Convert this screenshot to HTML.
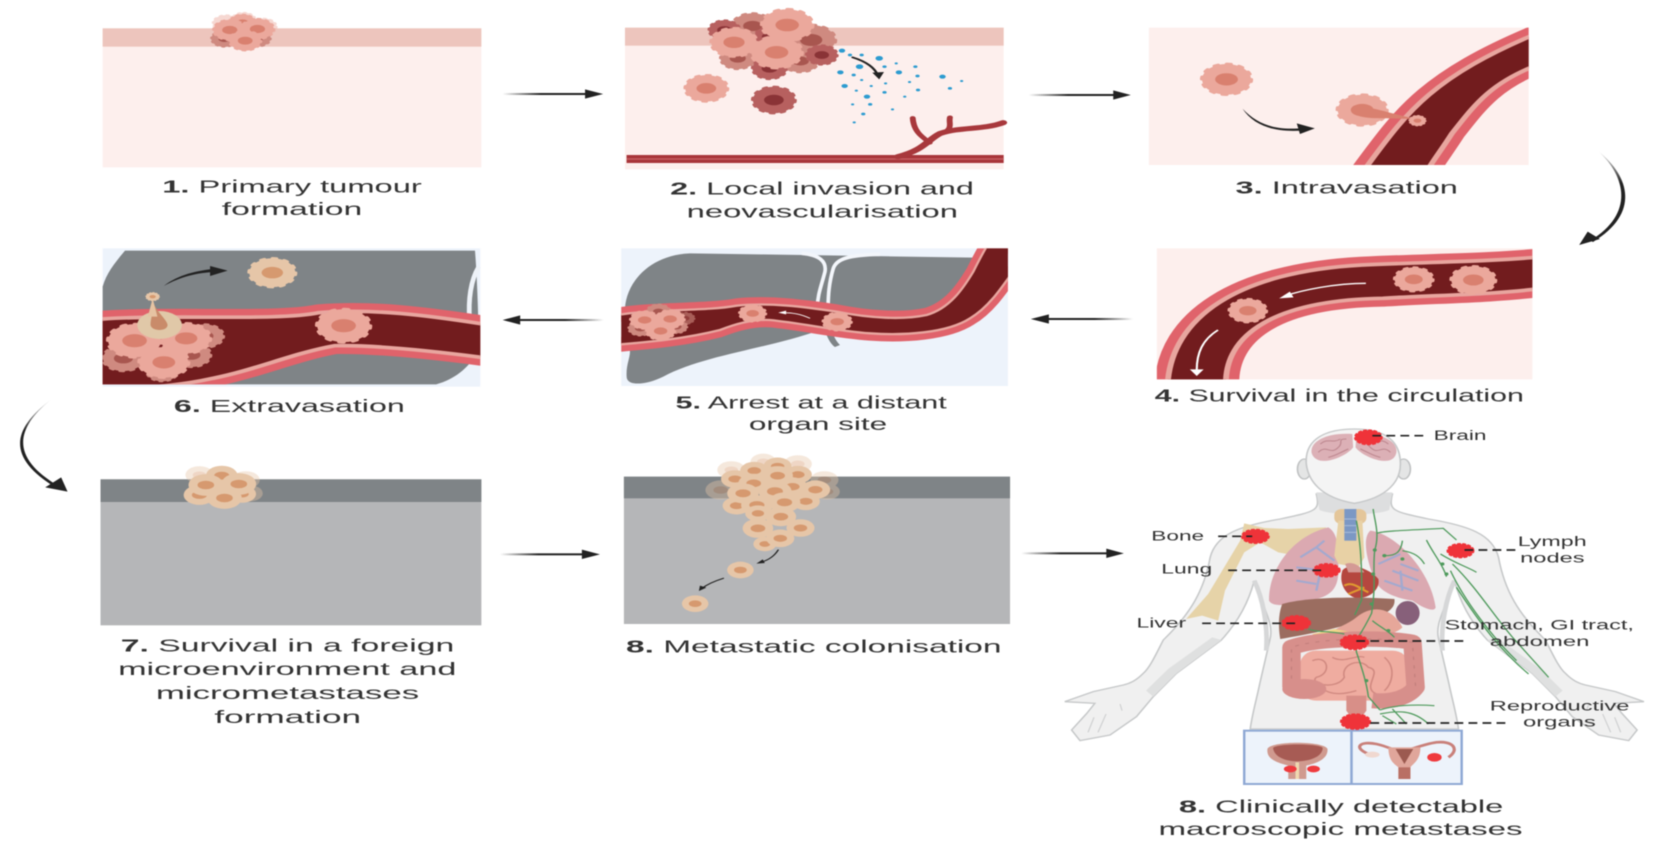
<!DOCTYPE html>
<html><head><meta charset="utf-8"><style>
html,body{margin:0;padding:0;background:#fff;width:1668px;height:848px;overflow:hidden}
svg{display:block;filter:blur(.55px)}
text{font-family:"Liberation Sans",sans-serif;fill:#333;font-size:54px}
text.s{font-size:41px}
tspan{font-weight:bold}
.r{fill:none;stroke:#e0636b;stroke-width:50}
.v{fill:#721c1e;stroke:#e8a69f;stroke-width:11}
.r5{fill:none;stroke:#e0636b;stroke-width:44}
.v5{fill:#721c1e;stroke:#e8a69f;stroke-width:7}
.a{fill:none;stroke:#222;stroke-linecap:round}
.d{fill:none;stroke:#222;stroke-width:5;stroke-dasharray:22 13}
.g{fill:none;stroke:#4f9a5c;stroke-width:3.5}
.b{fill:none;stroke:#a3a9cf;stroke-width:6}
.m{stroke-width:6;stroke-dasharray:5 8;stroke-linecap:round;stroke:#ef3339;fill:#ef3339}
</style></head><body>
<svg width="1668" height="848" viewBox="0 0 3136 2544" preserveAspectRatio="none" xmlns="http://www.w3.org/2000/svg">
<defs>
<g id="p"><circle r="45" fill="#eba89c"/><circle r="45" fill="none" stroke="#eba89c" stroke-width="8" stroke-dasharray="7 16.6" stroke-linecap="round"/><ellipse rx="21" ry="18" fill="#d9806f"/></g>
<g id="q"><circle r="45" fill="#cf8a80"/><circle r="45" fill="none" stroke="#cf8a80" stroke-width="8" stroke-dasharray="7 16.6" stroke-linecap="round"/><ellipse rx="21" ry="18" fill="#a8564f"/></g>
<g id="k"><circle r="45" fill="#b7605f"/><circle r="45" fill="none" stroke="#b7605f" stroke-width="8" stroke-dasharray="7 16.6" stroke-linecap="round"/><ellipse rx="21" ry="18" fill="#8a3336"/></g>
<g id="t"><circle r="48" fill="#e6c6a8"/><ellipse rx="23" ry="19" fill="#d6996f"/></g>
<g id="u"><circle r="45" fill="#e6c6a8"/><circle r="45" fill="none" stroke="#e6c6a8" stroke-width="8" stroke-dasharray="7 16.6" stroke-linecap="round"/><ellipse rx="21" ry="18" fill="#d6996f"/></g>
<linearGradient id="fr"><stop offset="0" stop-color="#222" stop-opacity="0"/><stop offset=".45" stop-color="#222"/></linearGradient>
<linearGradient id="fl"><stop offset="0" stop-color="#222"/><stop offset=".55" stop-color="#222"/><stop offset="1" stop-color="#222" stop-opacity="0"/></linearGradient>
<linearGradient id="fd" x1="0" y1="0" x2="0" y2="1"><stop offset="0" stop-color="#222" stop-opacity=".1"/><stop offset=".35" stop-color="#222"/></linearGradient>
<clipPath id="c3"><rect x="2160" y="83" width="714" height="412"/></clipPath>
<clipPath id="c4"><rect x="2175" y="745" width="706" height="393"/></clipPath>
<clipPath id="c5"><rect x="1168" y="745" width="727" height="413"/></clipPath>
<clipPath id="c6"><rect x="193" y="745" width="710" height="408"/></clipPath>
<path id="v3" d="M2560,520 C2640,350 2680,240 2890,100 L2890,195 C2800,250 2770,320 2730,400 C2710,450 2695,480 2680,520 Z"/>
<path id="v4" d="M2195,1160 C2200,950 2330,815 2560,795 C2700,785 2800,785 2900,770 L2900,865 C2800,885 2700,885 2600,895 C2400,900 2300,1000 2305,1160 Z"/>
<path id="v5" d="M-20,212 C100,190 250,200 350,182 C450,172 550,185 650,200 C750,220 850,225 920,210 C990,190 1030,130 1060,80 C1075,50 1085,30 1100,5 L1200,5 L1200,50 C1150,120 1110,185 1050,220 C980,265 850,272 750,265 C650,258 550,235 450,225 C400,222 350,235 300,255 C200,280 100,290 -20,300 Z"/>
<path id="v6" d="M170,960 C300,940 520,965 600,938 C700,925 800,945 920,975 L920,1075 C800,1050 700,1035 630,1037 C550,1060 480,1110 400,1135 C330,1160 260,1165 170,1170 Z"/>
</defs>

<!-- Panel 1 -->
<rect x="193" y="85" width="712" height="417" fill="#fdefed"/>
<rect x="193" y="85" width="712" height="55" fill="#edc5bd"/>
<g opacity=".45"><use href="#p" transform="translate(425 70) scale(.55)"/><use href="#p" transform="translate(495 80) scale(.55)"/><use href="#p" transform="translate(458 60) scale(.5)"/></g>
<use href="#p" transform="translate(456 68) scale(.55)"/>
<use href="#q" transform="translate(422 116) scale(.55)"/>
<use href="#q" transform="translate(484 115) scale(.55)"/>
<use href="#p" transform="translate(432 90) scale(.68)"/>
<use href="#p" transform="translate(484 87) scale(.68)"/>
<use href="#p" transform="translate(461 122) scale(.66)"/>

<!-- Panel 2 -->
<rect x="1175" y="83" width="712" height="425" fill="#fdefed"/>
<rect x="1175" y="83" width="712" height="54" fill="#edc5bd"/>
<rect x="1178" y="465" width="709" height="24" fill="#a8353a"/><rect x="1178" y="475" width="709" height="4" fill="#c76064"/>
<g transform="translate(1568 0)" fill="none" stroke="#a8383c" stroke-linecap="round">
<path stroke-width="15" d="M120,470 C170,450 175,420 200,400 C240,380 280,390 318,368"/>
<path stroke-width="11" d="M180,428 C165,410 150,395 148,354"/><path stroke-width="11" d="M205,398 C225,385 215,370 218,352"/>
</g>
<g fill="#2c9bd0" transform="translate(1568 0)">
<circle cx="15" cy="152" r="6"/><circle cx="30" cy="165" r="4"/><circle cx="52" cy="165" r="4"/><circle cx="85" cy="175" r="7"/><circle cx="48" cy="200" r="7"/><circle cx="12" cy="217" r="6"/><circle cx="37" cy="225" r="4"/><circle cx="95" cy="200" r="4"/><circle cx="122" cy="217" r="6"/><circle cx="153" cy="200" r="4"/><circle cx="157" cy="228" r="4"/><circle cx="204" cy="230" r="6"/><circle cx="240" cy="243" r="3"/><circle cx="218" cy="265" r="4"/><circle cx="158" cy="270" r="4"/><circle cx="95" cy="277" r="4"/><circle cx="62" cy="290" r="6"/><circle cx="20" cy="258" r="6"/><circle cx="42" cy="272" r="3"/><circle cx="133" cy="290" r="3"/><circle cx="35" cy="313" r="3"/><circle cx="68" cy="313" r="4"/><circle cx="110" cy="328" r="3"/><circle cx="55" cy="342" r="4"/><circle cx="38" cy="367" r="3"/><circle cx="142" cy="246" r="3"/><circle cx="70" cy="258" r="3"/><circle cx="52" cy="240" r="3"/><circle cx="97" cy="250" r="3"/><circle cx="117" cy="190" r="3"/>
</g>
<use href="#q" transform="translate(1415 78) scale(.85)"/>
<use href="#k" transform="translate(1362 90) scale(.65)"/>
<use href="#k" transform="translate(1445 110) scale(.6)"/>
<use href="#q" transform="translate(1387 175) scale(.72)"/>
<use href="#k" transform="translate(1447 205) scale(.72)"/>
<use href="#q" transform="translate(1525 120) scale(1)"/>
<use href="#q" transform="translate(1505 183) scale(.75)"/>
<use href="#k" transform="translate(1545 165) scale(.65)"/>
<use href="#p" transform="translate(1480 75) scale(1.05)"/>
<use href="#p" transform="translate(1380 127) scale(.95)"/>
<use href="#p" transform="translate(1460 157) scale(1.05)"/>
<use href="#p" transform="translate(1328 265) scale(.88)"/>
<use href="#k" transform="translate(1455 300) scale(.88)"/>
<path class="a" d="M1603,172 C1630,185 1645,205 1650,225" stroke-width="5"/>
<polygon points="1640,218 1662,216 1653,238" fill="#222"/>

<!-- Panel 3 -->
<rect x="2160" y="83" width="714" height="412" fill="#fdefed"/>
<g clip-path="url(#c3)"><use href="#v3" class="r"/><use href="#v3" class="v"/></g>
<use href="#p" transform="translate(2306 238) scale(1.02)"/>
<use href="#p" transform="translate(2561 330) scale(1.02)"/>
<path d="M2548,322 C2570,315 2600,335 2665,358 C2610,352 2570,360 2550,345 Z" fill="#d9806f"/>
<use href="#p" transform="translate(2665 362) scale(.35)"/>
<path d="M2336,326 C2365,376 2400,392 2452,384 L2452,391 C2400,398 2358,380 2336,326 Z" fill="#222"/>
<polygon points="2438,370 2472,385 2444,402" fill="#222"/>

<!-- curved arrow 3-4 -->
<path d="M3006,455 C3056,530 3074,640 2990,722 L2995,726 C3084,640 3064,530 3006,455 Z" fill="url(#fd)"/>
<polygon points="2969,735 2985,695 3008,717" fill="#222"/>

<!-- Panel 4 -->
<rect x="2175" y="745" width="706" height="393" fill="#fdefed"/>
<g clip-path="url(#c4)"><use href="#v4" class="r"/><use href="#v4" class="v"/></g>
<use href="#p" transform="translate(2658 838) scale(.8)"/>
<use href="#p" transform="translate(2770 840) scale(.92)"/>
<use href="#p" transform="translate(2346 932) scale(.78)"/>
<path d="M2568,850 C2510,850 2450,870 2415,888" fill="none" stroke="#fff" stroke-width="4"/>
<polygon points="2405,895 2425,875 2432,892" fill="#fff"/>
<path d="M2290,990 C2260,1020 2250,1060 2250,1110" fill="none" stroke="#fff" stroke-width="4"/>
<polygon points="2237,1108 2263,1108 2250,1128" fill="#fff"/>

<!-- Panel 5 -->
<rect x="1168" y="745" width="727" height="413" fill="#edf3fb"/>
<g clip-path="url(#c5)"><g transform="translate(1165.6 735) scale(.6267 1)">
<path d="M15,190 C20,110 90,30 210,25 L1065,38 L1000,200 L640,260 L600,255 C450,310 250,330 130,395 C80,420 20,425 20,395 C18,360 30,340 30,320 Z" fill="#7f8487"/>
<path d="M615,258 C625,285 635,300 645,306 L660,300 C645,285 640,270 638,258 Z" fill="#7f8487"/>
<path d="M545,25 C600,30 620,50 615,80 C605,120 592,150 592,190 M780,28 C690,30 650,40 640,70 C625,120 625,160 624,192" fill="none" stroke="#f3f6fb" stroke-width="11"/>
<use href="#v5" class="r5"/><use href="#v5" class="v5"/>
</g></g>
<use href="#q" transform="translate(1288 955) scale(.4)" opacity=".6"/>
<use href="#q" transform="translate(1238 935) scale(.5)"/>
<use href="#q" transform="translate(1272 980) scale(.45)"/>
<use href="#q" transform="translate(1204 985) scale(.5)"/>
<use href="#p" transform="translate(1212 960) scale(.6)"/>
<use href="#p" transform="translate(1260 957) scale(.6)"/>
<use href="#p" transform="translate(1242 993) scale(.6)"/>
<use href="#p" transform="translate(1415 940) scale(.56)"/>
<use href="#p" transform="translate(1574 965) scale(.6)"/>
<path d="M1523,955 C1505,942 1490,938 1472,938" fill="none" stroke="#fff" stroke-width="2.5"/>
<polygon points="1463,938 1478,932 1478,943" fill="#fff"/>

<!-- Panel 6 -->
<rect x="193" y="745" width="710" height="415" fill="#edf3fb"/>
<path d="M235,752 L893,752 C898,850 900,1000 900,1050 C880,1110 850,1140 820,1153 L193,1153 L193,860 C200,820 215,790 235,752 Z" fill="#7f8487"/>
<path d="M900,800 C885,840 880,900 883,960" fill="none" stroke="#eef2f8" stroke-width="9"/>
<g clip-path="url(#c6)"><use href="#v6" class="r"/><use href="#v6" class="v"/>
<use href="#q" transform="translate(385 1008) scale(.78)"/>
<use href="#q" transform="translate(232 1075) scale(.85)"/>
<use href="#q" transform="translate(360 1065) scale(.8)"/>
<use href="#q" transform="translate(305 1115) scale(.65)"/>
<use href="#p" transform="translate(253 1022) scale(1.1)"/>
<use href="#p" transform="translate(350 1015) scale(1)"/>
<use href="#p" transform="translate(308 1087) scale(1.02)"/>
<use href="#p" transform="translate(646 977) scale(1.1)"/>
</g>
<circle cx="300" cy="975" r="42" fill="#e0c8a8"/>
<path d="M287,900 C290,930 315,960 315,975 C315,995 285,995 283,975 C283,955 290,930 287,900 Z" fill="#c98b6a"/>
<path d="M287,895 L296,950 L278,950 Z" fill="#e6c3a2"/>
<use href="#u" transform="translate(287 890) scale(.28)"/>
<use href="#u" transform="translate(512 818) scale(.96)"/>
<path d="M308,858 C335,824 370,812 405,806 L405,816 C370,818 340,830 308,858 Z" fill="#222"/>
<polygon points="395,798 428,812 395,828" fill="#222"/>

<!-- curved arrow 6-7 -->
<path d="M95,1200 C26,1290 22,1375 110,1458 L105,1463 C14,1375 20,1290 95,1200 Z" fill="url(#fd)"/>
<polygon points="127,1475 85,1462 115,1432" fill="#222"/>

<!-- Panel 7 -->
<rect x="189" y="1438" width="716" height="438" fill="#b5b6b8"/>
<rect x="189" y="1438" width="716" height="68" fill="#7f8487"/>
<g opacity=".4"><use href="#t" transform="translate(375 1425) scale(.55)"/><use href="#t" transform="translate(462 1440) scale(.55)"/><use href="#t" transform="translate(470 1480) scale(.5)"/></g>
<use href="#t" transform="translate(417 1427) scale(.62)"/>
<use href="#t" transform="translate(375 1485) scale(.62)"/>
<use href="#t" transform="translate(455 1482) scale(.55)"/>
<use href="#t" transform="translate(387 1455) scale(.68)"/>
<use href="#t" transform="translate(449 1452) scale(.68)"/>
<use href="#t" transform="translate(422 1494) scale(.68)"/>

<!-- Panel 8 -->
<rect x="1173" y="1430" width="726" height="442" fill="#b5b6b8"/>
<rect x="1173" y="1430" width="726" height="65" fill="#7f8487"/>
<g opacity=".4"><use href="#t" transform="translate(1375 1410) scale(.55)"/><use href="#t" transform="translate(1435 1385) scale(.5)"/><use href="#t" transform="translate(1500 1392) scale(.55)"/><use href="#t" transform="translate(1550 1440) scale(.55)"/><use href="#t" transform="translate(1355 1470) scale(.6)"/><use href="#t" transform="translate(1555 1475) scale(.5)"/></g>
<use href="#t" transform="translate(1462 1399) scale(.55)"/>
<use href="#t" transform="translate(1418 1412) scale(.55)"/>
<use href="#t" transform="translate(1500 1424) scale(.55)"/>
<use href="#t" transform="translate(1382 1437) scale(.55)"/>
<use href="#t" transform="translate(1462 1427) scale(.6)"/>
<use href="#t" transform="translate(1417 1450) scale(.6)"/>
<use href="#t" transform="translate(1490 1460) scale(.58)"/>
<use href="#t" transform="translate(1533 1469) scale(.58)"/>
<use href="#t" transform="translate(1385 1517) scale(.55)"/>
<use href="#t" transform="translate(1515 1504) scale(.55)"/>
<use href="#t" transform="translate(1397 1480) scale(.62)"/>
<use href="#t" transform="translate(1457 1474) scale(.65)"/>
<use href="#t" transform="translate(1475 1507) scale(.62)"/>
<use href="#t" transform="translate(1423 1515) scale(.62)"/>
<use href="#t" transform="translate(1425 1540) scale(.5)"/>
<use href="#t" transform="translate(1468 1550) scale(.6)"/>
<use href="#t" transform="translate(1438 1632) scale(.45)"/>
<use href="#t" transform="translate(1425 1585) scale(.6)"/>
<use href="#t" transform="translate(1505 1584) scale(.55)"/>
<use href="#t" transform="translate(1467 1615) scale(.55)"/>
<use href="#t" transform="translate(1392 1710) scale(.52)"/>
<use href="#t" transform="translate(1307 1811) scale(.52)"/>
<path class="a" d="M1463,1650 C1455,1670 1445,1680 1432,1686" stroke-width="3"/>
<polygon points="1422,1691 1434,1678 1438,1689" fill="#222"/>
<path class="a" d="M1360,1735 C1340,1745 1328,1755 1320,1765" stroke-width="3"/>
<polygon points="1314,1773 1316,1757 1328,1763" fill="#222"/>

<!-- straight arrows -->
<rect x="945" y="279" width="160" height="6" fill="url(#fr)"/><polygon points="1100,268 1134,282 1100,296" fill="#222"/>
<rect x="1934" y="282" width="164" height="6" fill="url(#fr)"/><polygon points="2093,271 2126,285 2093,299" fill="#222"/>
<rect x="1970" y="954" width="160" height="6" fill="url(#fl)"/><polygon points="1938,957 1972,943 1972,971" fill="#222"/>
<rect x="975" y="957" width="160" height="6" fill="url(#fl)"/><polygon points="945,960 978,946 978,974" fill="#222"/>
<rect x="940" y="1660" width="160" height="6" fill="url(#fr)"/><polygon points="1094,1649 1128,1663 1094,1677" fill="#222"/>
<rect x="1920" y="1657" width="165" height="6" fill="url(#fr)"/><polygon points="2080,1646 2113,1660 2080,1674" fill="#222"/>

<!-- Captions -->
<text x="305" y="577" textLength="488" lengthAdjust="spacingAndGlyphs"><tspan>1.</tspan> Primary tumour</text>
<text x="417" y="645" textLength="264" lengthAdjust="spacingAndGlyphs">formation</text>
<text x="1260" y="583" textLength="571" lengthAdjust="spacingAndGlyphs"><tspan>2.</tspan> Local invasion and</text>
<text x="1291" y="652" textLength="510" lengthAdjust="spacingAndGlyphs">neovascularisation</text>
<text x="2323" y="580" textLength="418" lengthAdjust="spacingAndGlyphs"><tspan>3.</tspan> Intravasation</text>
<text x="2171" y="1205" textLength="694" lengthAdjust="spacingAndGlyphs"><tspan>4.</tspan> Survival in the circulation</text>
<text x="327" y="1236" textLength="434" lengthAdjust="spacingAndGlyphs"><tspan>6.</tspan> Extravasation</text>
<text x="1270" y="1226" textLength="510" lengthAdjust="spacingAndGlyphs"><tspan>5.</tspan> Arrest at a distant</text>
<text x="1408" y="1290" textLength="260" lengthAdjust="spacingAndGlyphs">organ site</text>
<text x="227" y="1954" textLength="627" lengthAdjust="spacingAndGlyphs"><tspan>7.</tspan> Survival in a foreign</text>
<text x="222" y="2025" textLength="636" lengthAdjust="spacingAndGlyphs">microenvironment and</text>
<text x="293" y="2097" textLength="495" lengthAdjust="spacingAndGlyphs">micrometastases</text>
<text x="403" y="2169" textLength="276" lengthAdjust="spacingAndGlyphs">formation</text>
<text x="1177" y="1957" textLength="706" lengthAdjust="spacingAndGlyphs"><tspan>8.</tspan> Metastatic colonisation</text>

<!-- Body -->
<g transform="translate(1955.2 1272) scale(.753 1)">
<path d="M690,210 C700,260 690,262 600,285 C500,305 440,330 425,400 C410,500 375,570 308,648 C290,690 275,730 258,748 C240,770 225,778 208,783 L133,803 L62,833 L137,838 L117,868 L79,918 L100,950 L175,933 L241,878 L283,818 L341,748 L453,648 C490,600 520,540 535,470 C560,560 585,600 574,648 L549,778 C540,830 530,870 525,915 L1045,915 C1040,870 1030,830 1021,778 L996,648 C985,600 1010,560 1035,470 C1050,540 1080,600 1117,648 L1229,748 L1287,818 L1329,878 L1395,933 L1470,950 L1491,918 L1453,868 L1433,838 L1508,833 L1437,803 L1362,783 C1345,778 1330,770 1312,748 C1295,730 1280,690 1262,648 C1195,570 1160,500 1145,400 C1130,330 1070,305 970,285 C880,262 870,260 880,210 Z" fill="#f0f0f0" stroke="#c6c8c9" stroke-width="4"/>
<path d="M453,648 L341,748 L283,818 L265,800 L320,735 L430,640 Z" fill="#dfe0e0"/>
<path d="M1117,648 L1229,748 L1287,818 L1305,800 L1250,735 L1140,640 Z" fill="#dfe0e0"/>
<path d="M135,880 L120,925 M165,870 L145,925 M200,840 L205,860" fill="none" stroke="#cfd0d1" stroke-width="3"/>
<path d="M1435,880 L1450,925 M1405,870 L1425,925 M1370,840 L1365,860" fill="none" stroke="#cfd0d1" stroke-width="3"/>
<path d="M690,205 L880,205 L872,258 C840,275 730,275 698,258 Z" fill="#dddedf"/>
<path d="M1035,470 C1015,520 1000,600 1005,680 M535,470 C555,520 570,600 565,680" fill="none" stroke="#d6d7d8" stroke-width="12"/>
<ellipse cx="660" cy="135" rx="17" ry="30" fill="#e4e5e5" stroke="#bfc1c2" stroke-width="4"/>
<ellipse cx="908" cy="135" rx="17" ry="30" fill="#e4e5e5" stroke="#bfc1c2" stroke-width="4"/>
<path d="M665,120 C660,40 720,15 785,15 C850,15 900,40 900,120 C900,170 870,220 785,238 C700,220 670,170 665,120 Z" fill="#f4f4f4" stroke="#c6c8c9" stroke-width="4"/>
<!-- brain -->
<path d="M678,85 C675,50 720,25 780,30 L782,70 C770,90 730,115 700,110 C685,105 680,95 678,85 Z" fill="#dcb0b6"/>
<path d="M890,85 C893,50 850,25 790,30 L788,70 C800,90 840,115 870,110 C885,105 888,95 890,85 Z" fill="#dcb0b6"/>
<path d="M695,85 C715,60 725,95 745,70 C760,55 740,45 765,45 M700,60 C720,40 730,60 750,45 M720,100 C740,95 750,85 770,75 M875,85 C855,60 845,95 825,70 C810,55 830,45 805,45 M870,60 C850,40 840,60 820,45 M850,100 C830,95 820,85 800,75" fill="none" stroke="#bd878f" stroke-width="3"/>
<!-- bone -->
<path d="M510,298 L560,312 L620,315 L715,310 L690,345 L640,395 L595,385 L550,355 L510,385 L462,500 L445,590 L405,575 L365,585 L420,510 L470,410 L500,350 Z" fill="#e6d3a8"/>
<!-- lungs -->
<path d="M720,310 C750,330 745,400 745,440 C745,490 730,520 670,530 C620,545 580,550 572,530 C570,450 620,340 720,310 Z" fill="#dba9b1"/>
<path d="M825,320 C890,330 975,440 988,550 C985,565 960,555 930,530 C880,520 840,500 830,450 C815,400 805,340 825,320 Z" fill="#dba9b1"/>
<path class="b" d="M735,410 L690,370 M690,370 L650,400 M690,370 L710,350 M710,440 L640,430 M690,480 L640,470 M700,445 L690,500 M845,420 L900,390 M900,420 L945,440 M900,440 L905,500 M860,470 L930,500 M880,440 L945,470"/>
<!-- throat -->
<rect x="735" y="255" width="80" height="45" rx="18" fill="#e4c69a"/>
<path d="M745,290 L805,290 L810,400 L795,430 L745,420 L735,395 Z" fill="#e8d1a5"/>
<rect x="760" y="255" width="30" height="95" fill="#7c98c4"/>
<path d="M760,285 H790 M760,305 H790 M760,325 H790" stroke="#a9bcd9" stroke-width="3"/>
<!-- heart -->
<path d="M755,440 C770,415 820,430 845,465 C850,495 825,523 790,523 C765,515 745,480 755,440 Z" fill="#b5473f"/>
<path d="M762,420 C780,410 800,425 810,445 L770,445 Z" fill="#d49a95"/>
<path d="M760,485 C780,470 800,495 820,505 M770,510 L810,490" fill="none" stroke="#e09a30" stroke-width="6"/>
<!-- liver / stomach -->
<path d="M605,540 C680,515 820,520 885,525 C890,560 850,580 800,590 C750,610 700,625 600,645 C595,610 595,570 605,540 Z" fill="#9b6d60"/>
<ellipse cx="918" cy="567" rx="30" ry="36" fill="#87607a"/>
<path d="M790,580 C830,540 880,550 905,610 C880,640 820,640 770,640 L720,630 C740,610 770,600 790,580 Z" fill="#e6a79a"/>
<path d="M680,630 C710,655 760,655 780,625 L735,615 Z" fill="#f0d48a"/>
<!-- intestines -->
<rect x="650" y="680" width="270" height="150" rx="40" fill="#efaca0"/>
<path d="M680,710 C720,690 730,750 690,760 C670,780 740,800 760,760 C750,720 800,700 820,730 C860,740 800,790 840,810 M860,700 C890,730 880,780 860,800 M700,790 C720,810 750,815 790,800 M730,700 C760,720 790,690 810,700" fill="none" stroke="#d08980" stroke-width="4"/>
<path d="M628,790 L628,670 C700,640 870,640 930,655 L938,790 C920,820 880,835 830,830" fill="none" stroke="#d78f8b" stroke-width="46" stroke-linejoin="round"/>
<path d="M628,790 L628,670 C700,640 870,640 930,655 L938,790" fill="none" stroke="#c27f7c" stroke-width="3" stroke-dasharray="10 16"/>
<ellipse cx="660" cy="795" rx="55" ry="30" fill="#d78f8b"/>
<path d="M765,815 L815,815 L815,860 L800,885 L780,885 L765,860 Z" fill="#d88f88"/>
<!-- lymph -->
<path class="g" d="M832,255 C835,290 849,328 836,378 C830,430 840,488 828,568 C815,600 800,630 790,648 L790,683 C800,720 815,770 820,818 L849,858 M790,290 C800,350 805,420 803,528 L786,573 M840,328 C860,320 932,318 1007,313 L1040,348 M965,348 C980,385 1005,420 1015,458 M1000,390 C1040,420 1070,430 1090,445 M1030,420 C1090,490 1130,570 1180,640 L1270,760 M1040,490 C1100,600 1150,680 1220,750 M1025,440 C1060,530 1130,640 1190,710 M855,395 C880,395 900,395 905,350 M905,380 C935,385 950,400 960,420 M849,858 C880,845 930,840 985,845 M849,870 C890,860 930,855 970,900 M855,875 L890,900 M880,855 L915,900 M830,590 C850,610 870,620 885,640 M670,615 C690,625 720,620 760,630"/>
<g fill="#4f9a5c"><circle cx="836" cy="378" r="5"/><circle cx="832" cy="450" r="5"/><circle cx="828" cy="540" r="5"/><circle cx="860" cy="395" r="5"/><circle cx="905" cy="405" r="5"/><circle cx="1005" cy="420" r="5"/><circle cx="1015" cy="450" r="5"/><circle cx="870" cy="620" r="5"/><circle cx="815" cy="770" r="5"/></g>
<!-- boxes -->
<rect x="510" y="920" width="268" height="160" fill="#edf3fb" stroke="#8ea8d4" stroke-width="6"/>
<rect x="778" y="920" width="275" height="160" fill="#edf3fb" stroke="#8ea8d4" stroke-width="6"/>
<path d="M568,975 C575,950 710,950 718,975 C720,1010 680,1020 665,1025 L665,1065 L620,1065 L620,1025 C590,1015 565,1005 568,975 Z" fill="#d09a8f"/>
<path d="M582,972 C590,958 700,958 706,972 C705,1000 670,1012 642,1012 C615,1012 585,1000 582,972 Z" fill="#a75b54"/>
<rect x="638" y="1015" width="9" height="50" fill="#efd8b0"/>
<ellipse cx="625" cy="1035" rx="16" ry="10" fill="#ef3a3e"/><ellipse cx="683" cy="1035" rx="16" ry="10" fill="#ef3a3e"/>
<path d="M820,990 C780,970 800,950 840,960 C860,965 880,975 900,985 C930,975 960,960 990,955 C1030,950 1050,975 1020,1000" fill="none" stroke="#c9807a" stroke-width="8"/>
<path d="M870,970 L950,970 C950,1010 930,1020 925,1030 L925,1065 L895,1065 L895,1030 C885,1020 870,1010 870,970 Z" fill="#e0a69b"/>
<path d="M888,975 L932,975 L910,1020 Z" fill="#9c5a50"/>
<rect x="895" y="1030" width="30" height="35" fill="#b96f64"/>
<ellipse cx="830" cy="992" rx="18" ry="9" fill="#f0d8d0"/><ellipse cx="985" cy="1000" rx="18" ry="13" fill="#ef3a3e"/>
<!-- tumours -->
<ellipse class="m" cx="820" cy="40" rx="33" ry="21"/><ellipse class="m" cx="538" cy="337" rx="33" ry="20"/><ellipse class="m" cx="1050" cy="380" rx="32" ry="20"/><ellipse class="m" cx="716" cy="439" rx="32" ry="19"/><ellipse class="m" cx="640" cy="597" rx="34" ry="21"/><ellipse class="m" cx="785" cy="655" rx="34" ry="21"/><ellipse class="m" cx="788" cy="893" rx="36" ry="22"/>
<path class="d" d="M830,35 H960"/><path class="d" d="M445,337 H530"/><path class="d" d="M470,439 H715"/><path class="d" d="M405,598 H640"/><path class="d" d="M1060,378 H1190"/><path class="d" d="M790,651 H1060"/><path class="d" d="M825,897 H1170"/>
<text class="s" x="983" y="48" textLength="132" lengthAdjust="spacingAndGlyphs">Brain</text>
<text class="s" x="278" y="350" textLength="132" lengthAdjust="spacingAndGlyphs">Bone</text>
<text class="s" x="303" y="448" textLength="127" lengthAdjust="spacingAndGlyphs">Lung</text>
<text class="s" x="241" y="610" textLength="124" lengthAdjust="spacingAndGlyphs">Liver</text>
<text class="s" x="1193" y="366" textLength="172" lengthAdjust="spacingAndGlyphs">Lymph</text>
<text class="s" x="1199" y="416" textLength="161" lengthAdjust="spacingAndGlyphs">nodes</text>
<text class="s" x="1010" y="616" textLength="473" lengthAdjust="spacingAndGlyphs">Stomach, GI tract,</text>
<text class="s" x="1123" y="666" textLength="249" lengthAdjust="spacingAndGlyphs">abdomen</text>
<text class="s" x="1123" y="860" textLength="349" lengthAdjust="spacingAndGlyphs">Reproductive</text>
<text class="s" x="1206" y="908" textLength="182" lengthAdjust="spacingAndGlyphs">organs</text>
<text x="347" y="1165" textLength="810" lengthAdjust="spacingAndGlyphs"><tspan>8.</tspan> Clinically detectable</text>
<text x="296" y="1233" textLength="909" lengthAdjust="spacingAndGlyphs">macroscopic metastases</text>
</g>
</svg>
</body></html>
